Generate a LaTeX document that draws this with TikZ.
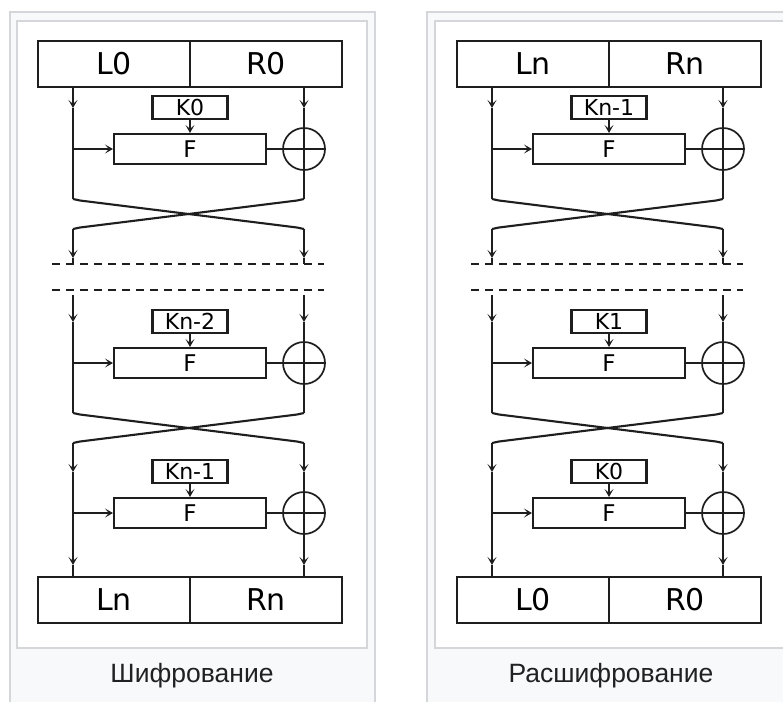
\documentclass[tikz,border=0pt]{standalone}
\usepackage{fontspec}
\setmainfont{DejaVu Sans}
\newfontfamily\capfont{Liberation Sans}
\usetikzlibrary{arrows.meta}
\definecolor{ink}{HTML}{1E1E1E}
\definecolor{frameline}{HTML}{D4D6D9}
\definecolor{framebg}{HTML}{F8F9FA}
\definecolor{captext}{HTML}{202122}
\tikzset{
  wire/.style={draw=ink,line width=2.1pt},
  tip/.style={-{Stealth[length=8pt,width=9pt,inset=4pt]}},
  half/.style={draw=ink,line width=2.3pt,minimum width=152pt,minimum height=46pt,inner sep=0pt,font=\fontsize{30}{30}\selectfont},
  keybox/.style={draw=ink,line width=2.1pt,minimum width=75pt,minimum height=23pt,inner sep=0pt,font=\fontsize{22}{22}\selectfont},
  fblock/.style={draw=ink,line width=2.1pt,minimum width=152pt,minimum height=30pt,inner sep=0pt,font=\fontsize{23}{23}\selectfont},
  xorc/.style={draw=ink,line width=1.7pt,circle,minimum size=42pt,inner sep=0pt},
  sepline/.style={draw=ink,line width=2.5pt,dash pattern=on 8pt off 6pt},
  captionnode/.style={font=\capfont\fontsize{26.5}{26.5}\selectfont,text=captext},
  outerframe/.style={draw=frameline,fill=framebg,line width=1.5pt},
  innerframe/.style={draw=frameline,fill=white,line width=1.2pt},
}
\begin{document}
\begin{tikzpicture}[x=1pt,y=-1pt]
\useasboundingbox (0,0) rectangle (783,702);
\fill[white] (0,0) rectangle (783,702);
% frames
\fill[framebg] (10,12) rectangle (375,702);
\draw[outerframe] (10,702) -- (10,12) -- (375,12) -- (375,702);
\draw[innerframe] (17,21) rectangle (367,648);
\fill[framebg] (427,12) rectangle (783,702);
\draw[outerframe] (427,702) -- (427,12) -- (783,12);
\draw[innerframe] (783,21) -- (435,21) -- (435,648) -- (783,648);
\foreach \dx/\p/\tl/\tr/\ka/\kb/\kc/\bl/\br/\cap in
  {0/A/L0/R0/K0/Kn-2/Kn-1/Ln/Rn/Шифрование,
   419/B/Ln/Rn/Kn-1/K1/K0/L0/R0/Расшифрование}{
\begin{scope}[xshift=\dx pt]
  \node[half] (\p-tl) at (114,64) {\tl};
  \node[half] (\p-tr) at (266,64) {\tr};
  \node[half] (\p-bl) at (114,600) {\bl};
  \node[half] (\p-br) at (266,600) {\br};
  \coordinate (\p-s1l) at (73,87);
  \coordinate (\p-s1r) at (304,87);
  \coordinate (\p-s2l) at (73,295);
  \coordinate (\p-s2r) at (304,295);
  \coordinate (\p-s3l) at (73,443);
  \coordinate (\p-s3r) at (304,443);
  \foreach \r/\t/\k in {1/134/\ka,2/348/\kb,3/498/\kc}{
    \node[keybox] (\p-k\r) at (190,\t-26.5) {\k};
    \node[fblock] (\p-f\r) at (190,\t+15) {F};
    \node[xorc] (\p-x\r) at (304,\t+15) {};
    \coordinate (\p-al\r) at (73,\t-26);
    \coordinate (\p-ar\r) at (304,\t-26);
    \coordinate (\p-ml\r) at (73,\t+15);
    \draw[wire,tip] (\p-s\r l) -- (\p-al\r);
    \draw[wire,tip] (\p-s\r r) -- (\p-ar\r);
    \draw[wire] (\p-ar\r) -- (\p-x\r.north);
    \draw[wire,tip] (\p-ml\r) -- (\p-f\r.west);
    \draw[wire,tip] (\p-k\r.south) -- (\p-f\r.north);
    \draw[wire] (\p-f\r.east) -- (\p-x\r.east);
    \draw[ink,line width=1.7pt] (\p-x\r.north) -- (\p-x\r.south);
  }
  % round 1 and 2 ends with crossing
  \foreach \r/\t in {1/134,2/348}{
    \coordinate (\p-el\r) at (73,\t+65);
    \coordinate (\p-er\r) at (304,\t+65);
    \coordinate (\p-cl\r) at (73,\t+95);
    \coordinate (\p-cr\r) at (304,\t+95);
    \draw[wire] (\p-al\r) -- (\p-el\r);
    \draw[wire] (\p-x\r.south) -- (\p-er\r);
    \draw[wire,line join=round] (\p-el\r) -- ++(7,1.5) -- ([shift={(-7,-1.5)}]\p-cr\r) -- (\p-cr\r);
    \draw[wire,line join=round] (\p-er\r) -- ++(-7,1.5) -- ([shift={(7,-1.5)}]\p-cl\r) -- (\p-cl\r);
  }
  % down to the dashed separator
  \coordinate (\p-dl) at (73,264);
  \coordinate (\p-dr) at (304,264);
  \draw[wire,tip] (\p-cl1) -- (73,258);
  \draw[wire] (73,258) -- (\p-dl);
  \draw[wire,tip] (\p-cr1) -- (304,258);
  \draw[wire] (304,258) -- (\p-dr);
  \draw[sepline] (52,264) -- (324,264);
  \draw[sepline] (52,290) -- (324,290);
  % round 3 down to output
  \coordinate (\p-ol) at (73,565);
  \coordinate (\p-or) at (304,565);
  \draw[wire,tip] (\p-al3) -- (\p-ol);
  \draw[wire] (\p-ol) -- (\p-bl.north -| \p-ol);
  \draw[wire,tip] (\p-x3.south) -- (\p-or);
  \draw[wire] (\p-or) -- (\p-br.north -| \p-or);
  \node[captionnode] (\p-cap) at (192,676) {\cap};
\end{scope}
}
\end{tikzpicture}
\end{document}
